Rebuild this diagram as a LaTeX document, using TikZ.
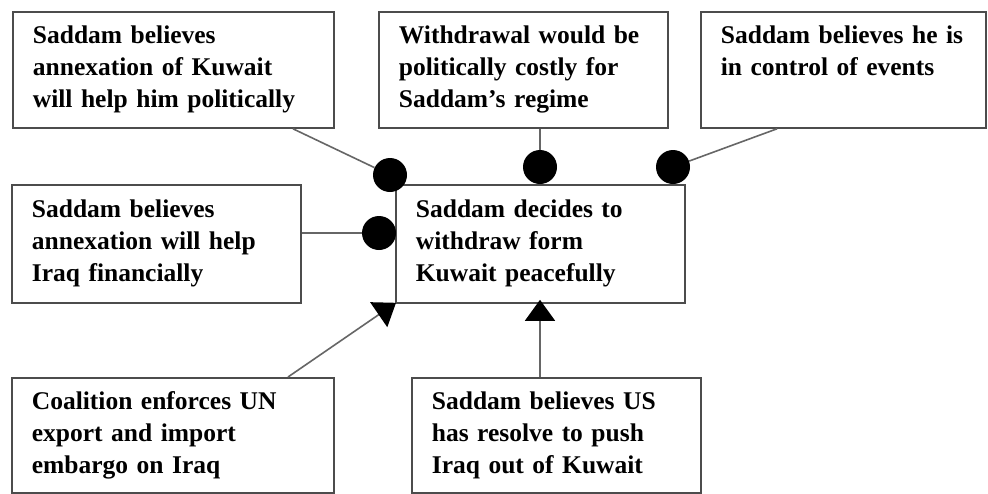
\documentclass[tikz,border=0pt]{standalone}
\usepackage{fontspec}
\setmainfont{Liberation Serif}
\usetikzlibrary{arrows.meta,calc}
\begin{document}
\begin{tikzpicture}[x=1pt,y=-1pt,
  box/.style={draw=black!70, line width=1.8pt, fill=white, inner sep=0pt,
    anchor=north west, align=left,
    font=\fontsize{25.5}{32}\selectfont\bfseries},
  link/.style={draw=black!60, line width=1.6pt},
  dot/.style={circle, fill=black, minimum size=34pt, inner sep=0pt},
  arr/.style={link, -{Triangle[length=21pt,width=30pt,color=black,fill=black]}}]
\useasboundingbox (0,0) rectangle (988,493);
\fill[white] (0,0) rectangle (988,493);
\coordinate (d1c) at (390,175);
\coordinate (d2c) at (540,167);
\coordinate (d3c) at (673,167);
\coordinate (d4c) at (379,233);
% boxes
\node[box, minimum width=321pt, minimum height=116pt, text width=281pt] (b1) at (12,11)
  {Saddam believes\\annexation of Kuwait\\\mbox{will help him politically}};
\node[box, minimum width=289pt, minimum height=116pt, text width=249pt] (b2) at (378,11)
  {\mbox{Withdrawal would be}\\politically costly for\\Saddam's regime};
\node[box, minimum width=285pt, minimum height=116pt, text width=245pt] (b3) at (700,11)
  {\mbox{Saddam believes he is}\\in control of events\\\vphantom{y}};
\node[box, minimum width=289pt, minimum height=118pt, text width=249pt] (b4) at (11,184)
  {Saddam believes\\annexation will help\\Iraq financially};
\node[box, minimum width=289pt, minimum height=118pt, text width=249pt] (c) at (395,184)
  {Saddam decides to\\withdraw form\\Kuwait peacefully};
\node[box, minimum width=322pt, minimum height=115pt, text width=282pt] (b6) at (11,377)
  {Coalition enforces UN\\export and import\\embargo on Iraq};
\node[box, minimum width=289pt, minimum height=115pt, text width=249pt] (b7) at (411,377)
  {Saddam believes US\\has resolve to push\\Iraq out of Kuwait};
% dots
\node[dot] (d1) at (d1c) {};
\node[dot] (d2) at (d2c) {};
\node[dot] (d3) at (d3c) {};
\node[dot] (d4) at (d4c) {};
% connectors
\draw[link] ($(b1.south west)+(281,0)$) -- (d1);
\draw[link] (d2 |- b2.south) -- (d2);
\draw[link] ($(b3.south west)+(77,0)$) -- (d3);
\draw[link] (b4.east |- d4) -- (d4);
\coordinate (t1) at ($(c.south west)+(1,-1)$);
\coordinate (t2) at ($(c.south west)+(145,-4)$);
\draw[arr] ($(b6.north west)+(277,0)$) -- (t1);
\draw[arr] (t2 |- b7.north) -- (t2);
\end{tikzpicture}
\end{document}
